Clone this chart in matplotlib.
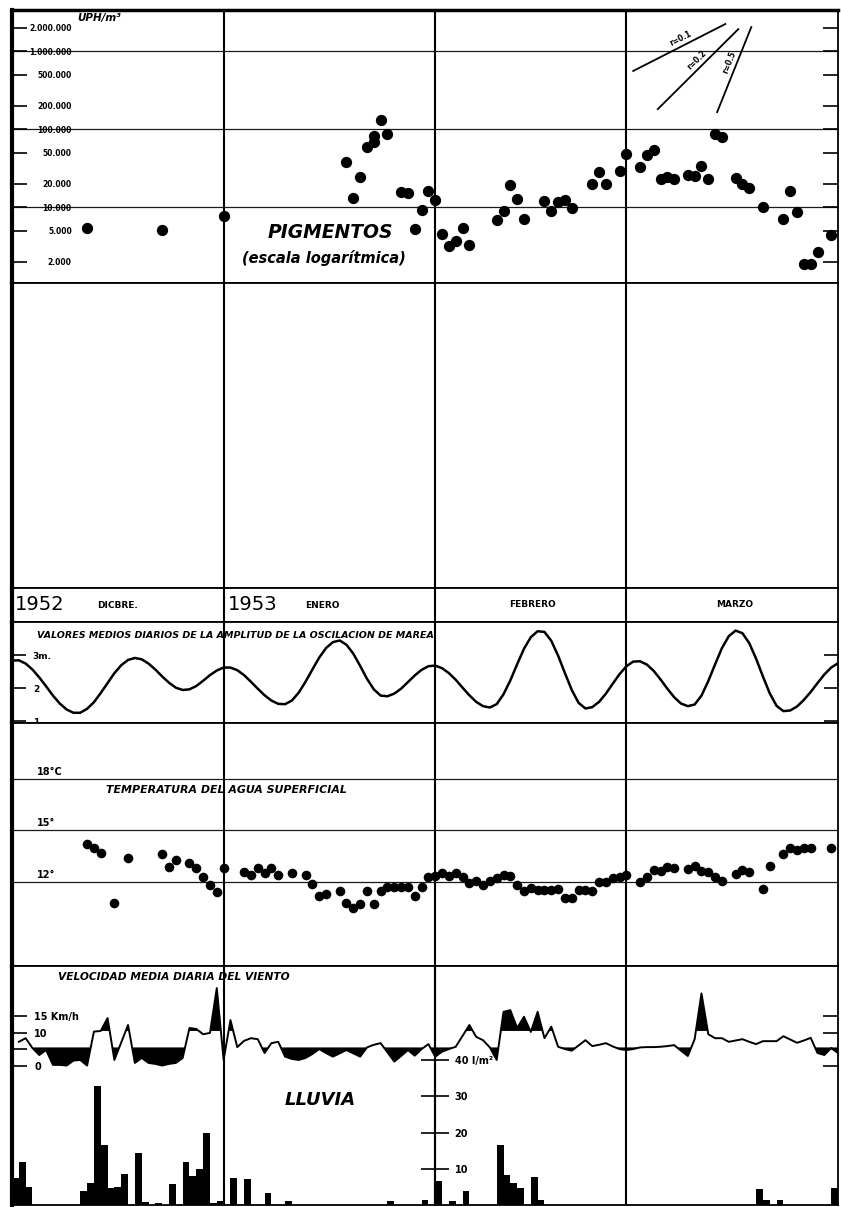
import matplotlib
matplotlib.use("Agg")
import matplotlib.pyplot as plt
import matplotlib.transforms as mtransforms
from matplotlib.ticker import NullLocator
import numpy as np

# x axis: day of the season, 1 Dec 1952 = 1 ... 31 Mar 1953 = 121
MONTH_ENDS = [31, 62, 90]

# ── pigments (log scale) ─────────────────────────────────────────────────────
PIG_DAYS = [11, 22, 31, 49, 50, 51, 52, 53, 53, 54, 55, 57, 58, 59, 60, 61, 62,
            63, 64, 65, 66, 67, 71, 72, 73, 74, 75, 78, 79, 80, 81, 82, 85, 86,
            87, 89, 90, 92, 93, 94, 95, 96, 97, 99, 100, 101, 102, 103, 104,
            106, 107, 108, 110, 113, 114, 115, 116, 117, 118, 120]
PIG_VALUES = [5350, 5100, 7700, 37800, 13000, 24300, 58900, 81000, 68000,
              130000, 86000, 15500, 15000, 5200, 9100, 16000, 12300, 4500,
              3200, 3650, 5350, 3250, 6800, 9000, 19000, 12500, 7000, 12000,
              9000, 11500, 12300, 9700, 19700, 28000, 20000, 29000, 48000,
              32600, 46500, 53500, 22700, 24000, 22700, 25800, 25000, 33600,
              22700, 86000, 80000, 23500, 20000, 17500, 10000, 7000, 16000,
              8700, 1860, 1860, 2650, 4400]
PIG_TICKS = [2e3, 5e3, 1e4, 2e4, 5e4, 1e5, 2e5, 5e5, 1e6, 2e6]
PIG_TICK_LABELS = ["2.000", "5.000", "10.000", "20.000", "50.000", "100.000",
                   "200.000", "500.000", "1.000.000", "2.000.000"]
PIG_GRID = [1e4, 1e5, 1e6]

# growth-rate reference lines
R_LABELS = ["r=0.1", "r=0.2", "r=0.5"]
R_START_DAYS = [91.0, 94.6, 103.3]
R_START_VALUES = [5.55e5, 1.80e5, 1.65e5]
R_END_DAYS = [104.5, 106.4, 108.3]
R_END_VALUES = [2.22e6, 1.91e6, 2.03e6]

# ── tide amplitude (m), daily ────────────────────────────────────────────────
TIDE_DAYS = list(range(0, 122))
TIDE_M = [2.83, 2.84, 2.74, 2.56, 2.32, 2.05, 1.77, 1.53, 1.35, 1.25,
          1.25, 1.37, 1.57, 1.85, 2.15, 2.45, 2.69, 2.85, 2.91, 2.87,
          2.74, 2.56, 2.35, 2.16, 2.01, 1.94, 1.96, 2.06, 2.22, 2.39,
          2.53, 2.62, 2.62, 2.54, 2.39, 2.19, 1.98, 1.78, 1.62, 1.52,
          1.51, 1.62, 1.86, 2.19, 2.56, 2.92, 3.21, 3.39, 3.44, 3.31,
          3.04, 2.67, 2.28, 1.96, 1.77, 1.75, 1.83, 1.98, 2.18, 2.38,
          2.55, 2.66, 2.68, 2.60, 2.45, 2.25, 2.01, 1.78, 1.58, 1.45,
          1.41, 1.51, 1.81, 2.23, 2.72, 3.19, 3.54, 3.72, 3.70, 3.43,
          2.98, 2.45, 1.94, 1.55, 1.38, 1.42, 1.58, 1.83, 2.13, 2.42,
          2.66, 2.80, 2.81, 2.71, 2.52, 2.26, 1.98, 1.72, 1.53, 1.45,
          1.50, 1.77, 2.21, 2.72, 3.21, 3.57, 3.74, 3.66, 3.36, 2.89,
          2.35, 1.84, 1.46, 1.30, 1.32, 1.44, 1.64, 1.88, 2.15, 2.41,
          2.62, 2.75]

# ── surface water temperature (°C) ───────────────────────────────────────────
TEMP_DAYS = [11, 12, 13, 15, 17, 22, 23, 24, 26, 27, 28, 29, 30, 31,
             34, 35, 36, 37, 38, 39, 41, 43, 44, 45, 46, 48, 49, 50, 51, 52,
             53, 54, 55, 56, 57, 58, 59, 60, 61,
             62, 63, 64, 65, 66, 67, 68, 69, 70, 71, 72, 73, 74, 75, 76, 77,
             78, 79, 80, 81, 82, 83, 84, 85, 86, 87, 88, 89, 90,
             92, 93, 94, 95, 96, 97, 99, 100, 101, 102, 103, 104, 106, 107,
             108, 110, 111, 113, 114, 115, 116, 117, 120]
TEMP_C = [14.2, 14.0, 13.7, 10.8, 13.4, 13.6, 12.9, 13.3, 13.1, 12.8, 12.3,
          11.8, 11.4, 12.8,
          12.6, 12.4, 12.8, 12.5, 12.8, 12.4, 12.5, 12.4, 11.9, 11.2, 11.3,
          11.5, 10.8, 10.5, 10.7, 11.5, 10.7, 11.5, 11.7, 11.7, 11.7, 11.7,
          11.2, 11.7, 12.3,
          12.35, 12.5, 12.35, 12.5, 12.3, 11.95, 12.05, 11.8, 12.05, 12.25,
          12.4, 12.35, 11.8, 11.5, 11.65, 11.55, 11.55, 11.55, 11.6, 11.05,
          11.05, 11.55, 11.55, 11.5, 12.0, 12.0, 12.25, 12.3, 12.4,
          12.0, 12.3, 12.7, 12.65, 12.85, 12.8, 12.75, 12.95, 12.65, 12.6,
          12.3, 12.05, 12.45, 12.7, 12.6, 11.6, 12.95, 13.65, 14.0, 13.85,
          14.0, 14.0, 14.0]
TEMP_GRID = [12, 15, 18]
TEMP_GRID_LABELS = ["12°", "15°", "18°C"]

# ── mean daily wind speed (km/h) ─────────────────────────────────────────────
WIND_DAYS = list(range(1, 122))
WIND_KMH = [7.2, 8.3, 5.3, 3.2, 4.7, 0.2, 0.2, 0.0, 1.5, 1.7,
            0.0, 10.3, 10.5, 14.4, 1.7, 7.0, 12.3, 0.8, 2.3, 0.8,
            0.5, 0.0, 0.5, 0.8, 2.3, 11.4, 11.1, 9.5, 9.9, 23.5,
            1.7, 13.8, 5.6, 7.5, 8.3, 8.0, 3.8, 6.8, 7.2, 2.7,
            2.0, 1.7, 2.3, 3.5, 5.0, 3.8, 2.7, 3.7, 4.7, 3.7,
            2.7, 5.5, 6.3, 6.8, 4.0, 1.2, 2.9, 4.7, 3.0, 5.0,
            6.5, 2.7, 4.2, 5.0, 5.7, 9.0, 12.3, 8.7, 7.7, 5.5,
            1.7, 16.3, 16.8, 11.4, 14.8, 10.2, 16.3, 8.3, 11.8, 5.7,
            5.0, 4.5, 6.1, 7.7, 5.9, 6.3, 6.8, 5.8, 5.0, 4.7,
            5.0, 5.5, 5.6, 5.6, 5.7, 5.9, 6.2, 4.5, 2.9, 8.0,
            21.9, 9.5, 8.3, 8.3, 7.2, 7.6, 8.0, 7.2, 6.5, 7.4,
            7.4, 7.4, 8.9, 7.9, 6.9, 7.6, 8.4, 3.8, 3.2, 5.3,
            3.8]
WIND_LOW = 5.5
WIND_HIGH = 10.5
WIND_TICKS = [0, 5, 10, 15]
WIND_TICK_LABELS = ["0", "", "10", "15 Km/h"]

# ── rain (l/m²) ──────────────────────────────────────────────────────────────
RAIN_DAYS = [1, 2, 3, 11, 12, 13, 14, 15, 16, 17, 19, 20, 22, 24, 26, 27, 28,
             29, 30, 31, 33, 35, 38, 41, 56, 61, 63, 65, 67, 72, 73, 74, 75,
             77, 78, 110, 111, 113, 121]
RAIN_MM = [7.4, 12.0, 5.0, 3.8, 6.2, 33.0, 16.5, 4.6, 5.0, 8.5, 14.3, 0.8,
           0.5, 5.7, 12.0, 8.1, 10.0, 19.8, 0.5, 1.0, 7.4, 7.2, 3.4, 1.0, 1.0,
           1.3, 6.6, 1.0, 3.8, 16.7, 8.3, 6.0, 4.6, 7.6, 1.3, 4.3, 1.5, 1.5,
           4.6]
RAIN_TICKS = [10, 20, 30, 40]
RAIN_TICK_LABELS = ["10", "20", "30", "40 l/m²"]

# ---------------------------------------------------------------------------
W, H = 841, 1207
X0, X1 = 12, 838
fig = plt.figure(figsize=(W / 100, H / 100), dpi=100)
fig.patch.set_facecolor("white")


def fx(x):
    return x / W


def fy(y):
    return 1 - y / H


def rect(top, bottom):
    return [fx(X0), fy(bottom), (X1 - X0) / W, (bottom - top) / H]


def panel(top, bottom):
    ax = fig.add_axes(rect(top, bottom))
    ax.set_xlim(0, 121)
    ax.set_xticks([])
    ax.set_yticks([])
    for s in ax.spines.values():
        s.set_linewidth(1.3)
    ax.spines["left"].set_linewidth(3.0)
    for m in MONTH_ENDS:
        ax.axvline(m, color="black", lw=1.5, zorder=1)
    return ax


BI = dict(fontweight="bold", fontstyle="italic", color="black")

# ── pigments ─────────────────────────────────────────────────────────────────
ax = panel(10, 283)
ax.spines["top"].set_linewidth(2.5)
ax.set_yscale("log")
ax.set_ylim(10 ** 3.026, 10 ** 6.526)
ax.yaxis.set_minor_locator(NullLocator())
ax.set_yticks(PIG_TICKS, PIG_TICK_LABELS, fontsize=5.5, fontweight="bold")
ax.tick_params(axis="y", direction="in", length=11, width=1.2, pad=-43,
               right=True)
for g in PIG_GRID:
    ax.axhline(g, color="#1a1a1a", lw=0.9, zorder=1)
ax.scatter(PIG_DAYS, PIG_VALUES, s=66, color="black", lw=0, zorder=3)
fig.text(fx(77), fy(18), "UPH/m³", fontsize=7.5, va="center", **BI)
fig.text(fx(330), fy(233), "PIGMENTOS", fontsize=13.5, ha="center",
         va="center", **BI)
fig.text(fx(324), fy(258), "(escala logarítmica)", fontsize=10.5,
         ha="center", va="center", **BI)

for lab, d0, v0, d1, v1 in zip(R_LABELS, R_START_DAYS, R_START_VALUES,
                               R_END_DAYS, R_END_VALUES):
    ax.plot([d0, d1], [v0, v1], color="black", lw=1.3)
    p0 = ax.transData.transform((d0, v0))
    p1 = ax.transData.transform((d1, v1))
    ang = np.degrees(np.arctan2(p1[1] - p0[1], p1[0] - p0[0]))
    mid = p0 + 0.55 * (p1 - p0)
    nx, ny = -np.sin(np.radians(ang)), np.cos(np.radians(ang))
    pos = ax.transData.inverted().transform(mid + 7 * np.array([nx, ny]))
    ax.text(pos[0], pos[1], lab, rotation=ang, rotation_mode="anchor",
            ha="center", va="center", fontsize=5.5, fontweight="bold")

# ── empty panel ──────────────────────────────────────────────────────────────
panel(283, 588)

# ── month row ────────────────────────────────────────────────────────────────
panel(588, 622)
fig.text(fx(15), fy(605), "1952", fontsize=14, va="center")
fig.text(fx(97), fy(605), "DICBRE.", fontsize=6.5, fontweight="bold",
         va="center")
fig.text(fx(228), fy(605), "1953", fontsize=14, va="center")
fig.text(fx(305), fy(605), "ENERO", fontsize=6.5, fontweight="bold",
         va="center")
fig.text(fx(533), fy(604), "FEBRERO", fontsize=6.5, fontweight="bold",
         ha="center", va="center")
fig.text(fx(735), fy(604), "MARZO", fontsize=6.5, fontweight="bold",
         ha="center", va="center")

# ── tide ─────────────────────────────────────────────────────────────────────
ax = panel(622, 723)
ax.set_ylim(0.94, 4.0)
ax.plot(TIDE_DAYS, TIDE_M, color="black", lw=1.8, zorder=3)
ax.set_yticks([1, 2, 3], ["1", "2", "3m."], fontsize=6.5, fontweight="bold")
ax.tick_params(axis="y", direction="in", length=10, width=1.2, pad=-15,
               right=True)
for t in ax.get_yticklabels():
    t.set_horizontalalignment("left")
fig.text(fx(37), fy(636),
         "VALORES MEDIOS DIARIOS DE LA AMPLITUD DE LA OSCILACION DE MAREA",
         fontsize=6.8, va="center", **BI)

# ── temperature ──────────────────────────────────────────────────────────────
ax = panel(723, 966)
ax.set_ylim(7.12, 21.24)
trans = mtransforms.blended_transform_factory(ax.transAxes, ax.transData)
for g, lab in zip(TEMP_GRID, TEMP_GRID_LABELS):
    ax.axhline(g, color="#1a1a1a", lw=0.9, zorder=1)
    ax.text(0.03, g + 0.12, lab, transform=trans, fontsize=7,
            fontweight="bold", va="bottom")
ax.scatter(TEMP_DAYS, TEMP_C, s=48, color="black", lw=0, zorder=3)
fig.text(fx(226), fy(790), "TEMPERATURA DEL AGUA SUPERFICIAL", fontsize=7.9,
         ha="center", va="center", **BI)

# ── wind ─────────────────────────────────────────────────────────────────────
ax = panel(966, 1205)
ax.set_ylim(-42.3, 30.2)
wd = np.array(WIND_DAYS)
wv = np.array(WIND_KMH)
ax.fill_between(wd, wv, WIND_HIGH, where=wv > WIND_HIGH, interpolate=True,
                color="black", lw=0)
ax.fill_between(wd, wv, WIND_LOW, where=wv < WIND_LOW, interpolate=True,
                color="black", lw=0)
ax.plot(wd, wv, color="black", lw=1.4, zorder=3)
ax.set_yticks(WIND_TICKS, WIND_TICK_LABELS, fontsize=7, fontweight="bold")
ax.tick_params(axis="y", direction="in", length=11, width=1.2, pad=-16,
               right=True)
for t in ax.get_yticklabels():
    t.set_horizontalalignment("left")
fig.text(fx(58), fy(977), "VELOCIDAD MEDIA DIARIA DEL VIENTO", fontsize=7.7,
         va="center", **BI)
fig.text(fx(320), fy(1100), "LLUVIA", fontsize=13, ha="center",
         va="center", **BI)

# ── rain (same panel, own scale) ─────────────────────────────────────────────
axr = fig.add_axes(rect(966, 1205), facecolor="none")
axr.set_xlim(0, 121)
axr.set_ylim(0, 66)
axr.bar(RAIN_DAYS, RAIN_MM, width=-1.0, align="edge", color="black", lw=0)
axr.set_xticks([])
for side in ("top", "bottom", "left"):
    axr.spines[side].set_visible(False)
axr.spines["right"].set_position(("data", 62))
axr.spines["right"].set_linewidth(1.5)
axr.yaxis.tick_right()
axr.set_yticks(RAIN_TICKS, RAIN_TICK_LABELS, fontsize=7, fontweight="bold")
axr.tick_params(axis="y", direction="inout", length=20, width=1.2, pad=4)

fig.savefig("out.png", dpi=100, facecolor="white")
